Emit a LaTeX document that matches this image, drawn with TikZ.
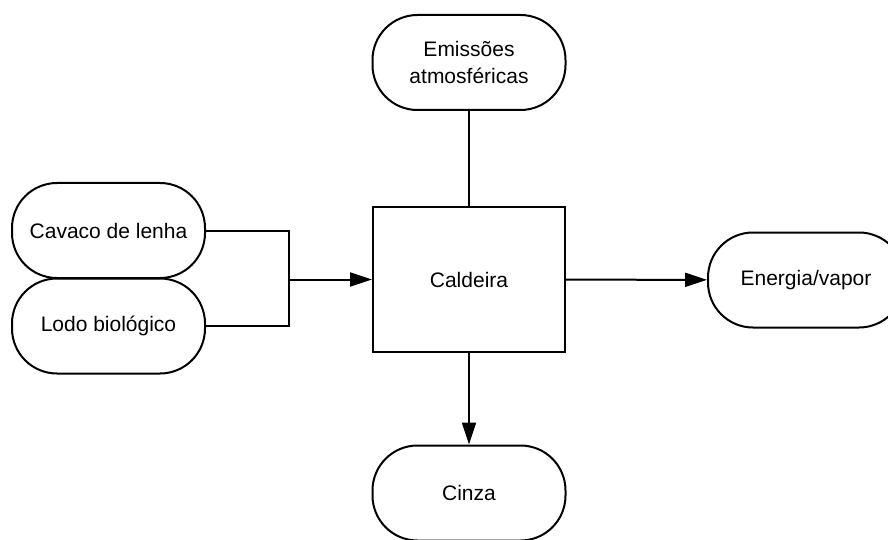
\documentclass[tikz,border=0pt]{standalone}
\usepackage{fontspec}
\setmainfont{Liberation Sans}
\usetikzlibrary{arrows.meta,positioning}

\begin{document}
\begin{tikzpicture}[x=1pt,y=-1pt,line width=2pt,
  every node/.style={font=\fontsize{21}{27}\selectfont,align=center},
  flow/.style={-{Triangle[length=22pt,width=14pt]}}]
  \tikzstyle{Terminal}=[draw,rounded corners=45pt,minimum width=193pt,minimum height=95pt,inner sep=0pt]
  \tikzstyle{Process}=[draw,minimum width=192pt,minimum height=145pt,inner sep=0pt]
  \useasboundingbox (0,0) rectangle (888,540);

  \node[Terminal] (cavaco) at (108.5,230.5) {Cavaco de lenha};
  \node[Terminal] (lodo) at (108.5,326) {Lodo biológico};
  \node[Process] (caldeira) at (469,279.5) {Caldeira};
  \node[Terminal] (emissoes) at (469,62.5) {Emissões\\atmosféricas};
  \node[Terminal] (cinza) at (469,493) {Cinza};
  \node[Terminal,minimum width=196pt] (energia) at (806,280) {Energia/vapor};
  \coordinate (juncao) at (289,279.5);

  \draw (cavaco) -| (juncao);
  \draw (lodo) -| (juncao);
  \draw[flow] (juncao) -- (caldeira);
  \draw (caldeira) -- (emissoes);
  \draw[flow] (caldeira) -- (cinza);
  \draw[flow] (caldeira) -- (energia);
\end{tikzpicture}
\end{document}
